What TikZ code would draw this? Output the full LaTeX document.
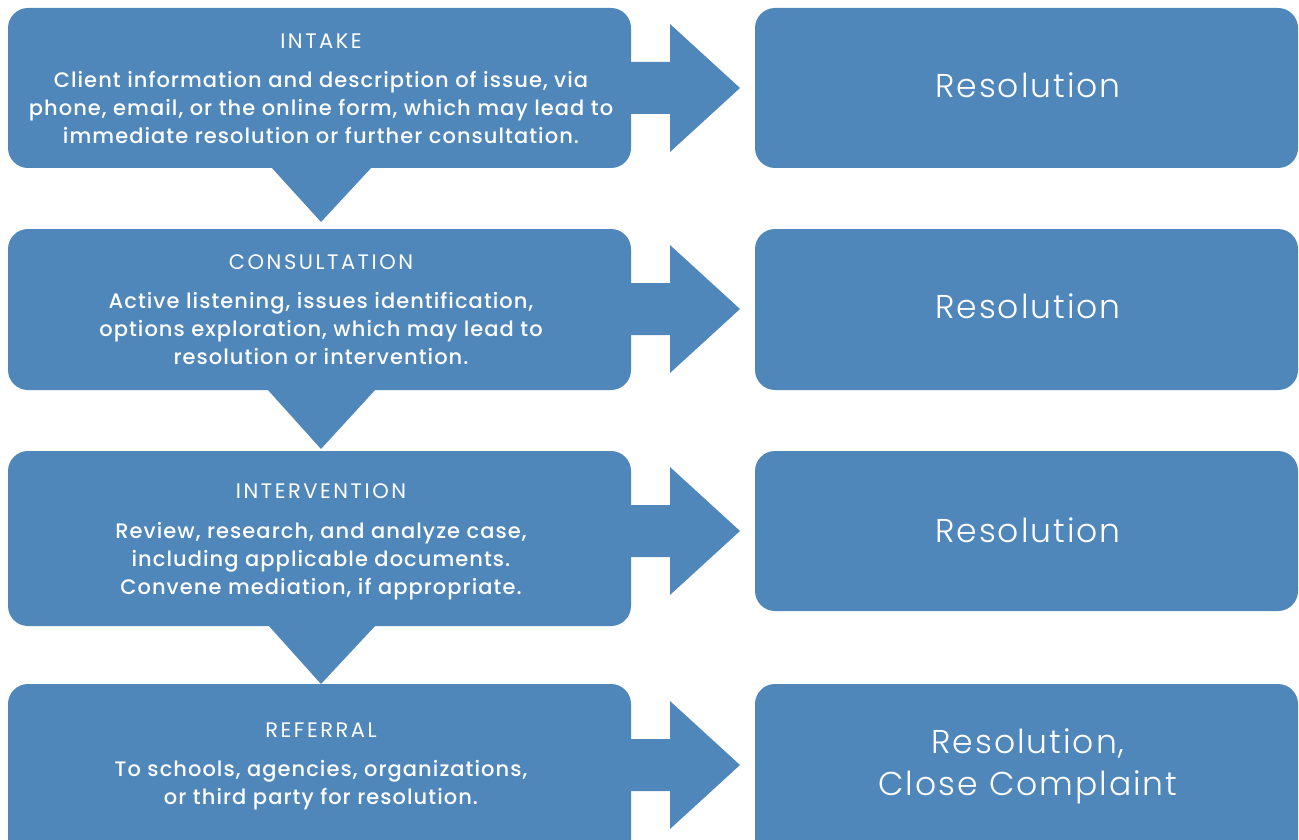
\documentclass[tikz,border=0pt]{standalone}
\usepackage{fontspec}
\setmainfont{Poppins}
\newfontfamily\headfont[LetterSpace=12]{Poppins}
\newfontfamily\lightfont[LetterSpace=6]{Poppins Light}
\newfontfamily\medfont[LetterSpace=5]{Poppins Medium}
\definecolor{boxblue}{RGB}{80,135,187}
\begin{document}
\begin{tikzpicture}[x=1pt,y=-1pt,
  blk/.style={fill=boxblue,draw=none,rounded corners=20pt,inner sep=0pt},
  head/.style={text=white,font=\headfont\fontsize{21}{24}\selectfont,inner sep=0pt},
  body/.style={text=white,font=\medfont\fontsize{21}{28}\selectfont,align=center,inner sep=0pt},
  res/.style={text=white,font=\lightfont\fontsize{33}{42}\selectfont,align=center,inner sep=0pt}]
\useasboundingbox (0,0) rectangle (1299,840);
\clip (0,0) rectangle (1299,840);
% left boxes
\node[blk,minimum width=623pt,minimum height=160pt] (L1) at (319.5,88) {};
\node[blk,minimum width=623pt,minimum height=161pt] (L2) at (319.5,309.5) {};
\node[blk,minimum width=623pt,minimum height=175pt] (L3) at (319.5,538.5) {};
\node[blk,minimum width=623pt,minimum height=176pt] (L4) at (319.5,772) {};
% right boxes
\node[blk,minimum width=543pt,minimum height=160pt] (R1) at (1026.5,88) {};
\node[blk,minimum width=543pt,minimum height=161pt] (R2) at (1026.5,309.5) {};
\node[blk,minimum width=543pt,minimum height=160pt] (R3) at (1026.5,531) {};
\node[blk,minimum width=543pt,minimum height=176pt] (R4) at (1026.5,772) {};
% right arrows
\foreach \yy in {88,309,531,765}{
  \fill[boxblue] (625,\yy-26) -- (670,\yy-26) -- (670,\yy-64) -- (740,\yy) -- (670,\yy+64) -- (670,\yy+26) -- (625,\yy+26) -- cycle;
}
% down triangles
\fill[boxblue] (271,167) -- (372,167) -- (321,222) -- cycle;
\fill[boxblue] (267,389) -- (376,389) -- (321,449) -- cycle;
\fill[boxblue] (268,625) -- (376,625) -- (321,684) -- cycle;
% texts
\node[head] (h1) at (321,41) {INTAKE};
\node[body] (b1) at (321,107) {Client information and description of issue, via\\phone, email, or the online form, which may lead to\\immediate resolution or further consultation.};
\node[head] (h2) at (321,262) {CONSULTATION};
\node[body] (b2) at (321,328) {Active listening, issues identification,\\options exploration, which may lead to\\resolution or intervention.};
\node[head] (h3) at (321,491) {INTERVENTION};
\node[body] (b3) at (321,561) {Review, research, and analyze case,\\including applicable documents.\\Convene mediation, if appropriate.};
\node[head] (h4) at (321,730) {REFERRAL};
\node[body] (b4) at (321,785) {To schools, agencies, organizations,\\or third party for resolution.};
\node[res] (t1) at (1028,85) {Resolution};
\node[res] (t2) at (1028,306) {Resolution};
\node[res] (t3) at (1028,530) {Resolution};
\node[res] (t4) at (1028,766) {Resolution,\\Close Complaint};
\end{tikzpicture}
\end{document}
